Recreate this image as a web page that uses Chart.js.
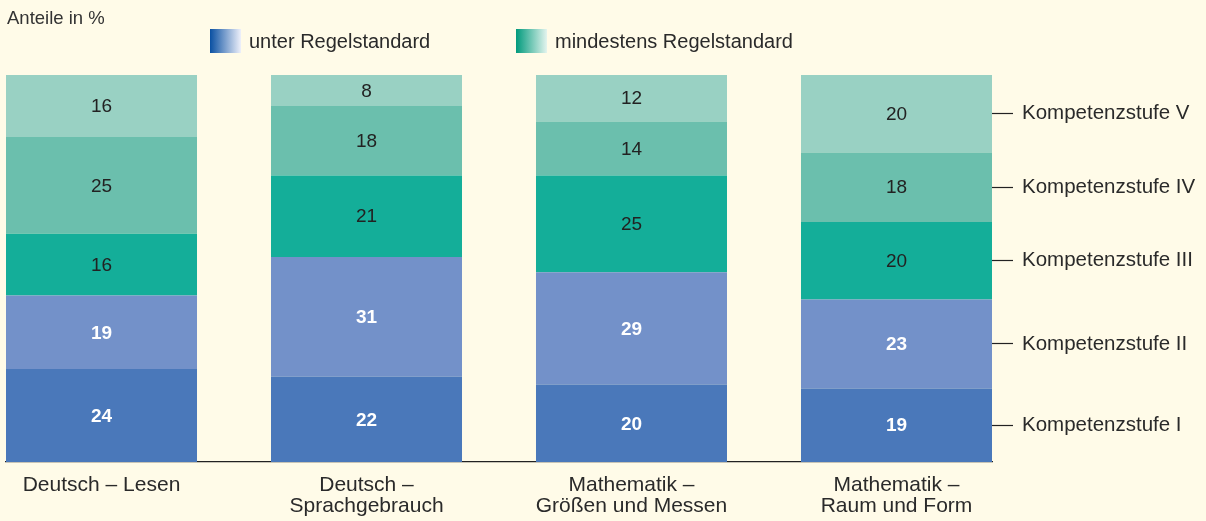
<!DOCTYPE html>
<html><head><meta charset="utf-8">
<script src="https://cdn.jsdelivr.net/npm/chart.js@4/dist/chart.umd.min.js"></script>
<style>
html,body{margin:0;padding:0;background:#fffbe8;}
#wrap{position:relative;width:1206px;height:521px;}
</style></head>
<body><div id="wrap"><canvas id="c" width="1206" height="521"></canvas></div>
<script>
const categories = [
  ['Deutsch – Lesen'],
  ['Deutsch –', 'Sprachgebrauch'],
  ['Mathematik –', 'Größen und Messen'],
  ['Mathematik –', 'Raum und Form']
];
const levels = ['Kompetenzstufe I', 'Kompetenzstufe II', 'Kompetenzstufe III', 'Kompetenzstufe IV', 'Kompetenzstufe V'];
const stufe1 = [24, 22, 20, 19];
const stufe2 = [19, 31, 29, 23];
const stufe3 = [16, 21, 25, 20];
const stufe4 = [25, 18, 14, 18];
const stufe5 = [16, 8, 12, 20];
const legendLabels = ['unter Regelstandard', 'mindestens Regelstandard'];
const yTitle = 'Anteile in %';

const series = [stufe1, stufe2, stufe3, stufe4, stufe5];
const colors = ['#4a78ba', '#7391c9', '#14ae99', '#6bbfad', '#99d1c3'];
const FONT = '"Liberation Sans", Arial, sans-serif';

const datasets = series.map((s, i) => ({
  label: levels[i],
  data: s,
  backgroundColor: colors[i],
  borderWidth: 0,
  yAxisID: 'y',
  categoryPercentage: 1,
  barPercentage: 0.7208
}));

const valueLabels = {
  id: 'valueLabels',
  afterDatasetsDraw(chart) {
    const ctx = chart.ctx;
    ctx.save();
    ctx.textAlign = 'center';
    ctx.textBaseline = 'middle';
    chart.data.datasets.forEach((ds, di) => {
      const meta = chart.getDatasetMeta(di);
      const light = di < 2;
      ctx.font = (light ? 'bold ' : '') + '19px ' + FONT;
      ctx.fillStyle = light ? '#ffffff' : '#222222';
      meta.data.forEach((el, i) => {
        const y = (el.y + el.base) / 2;
        ctx.fillText(String(ds.data[i]), el.x, y + 1);
      });
    });
    ctx.restore();
  }
};

const headerPlugin = {
  id: 'header',
  afterDraw(chart) {
    const ctx = chart.ctx;
    ctx.save();
    ctx.textBaseline = 'alphabetic';
    ctx.textAlign = 'left';
    ctx.fillStyle = '#333333';
    ctx.font = '18.5px ' + FONT;
    ctx.fillText(yTitle, 7, 23.5);
    const items = [
      {x: 210, from: '#0a50a2', to: '#eef0fa'},
      {x: 516, from: '#009a7c', to: '#e4f4ee'}
    ];
    items.forEach((it, i) => {
      const g = ctx.createLinearGradient(it.x, 0, it.x + 31, 0);
      g.addColorStop(0, it.from);
      g.addColorStop(1, it.to);
      ctx.fillStyle = g;
      ctx.fillRect(it.x, 29, 31, 24);
      ctx.fillStyle = '#2a2a2a';
      ctx.font = '20px ' + FONT;
      ctx.fillText(legendLabels[i], it.x + 39, 47.5);
    });
    ctx.restore();
  }
};

new Chart(document.getElementById('c'), {
  type: 'bar',
  data: { labels: categories.map((_, i) => i), datasets },
  options: {
    responsive: false,
    animation: false,
    layout: { padding: { top: 75, left: 6, right: 0, bottom: 0 } },
    plugins: { legend: { display: false }, tooltip: { enabled: false } },
    scales: {
      x: {
        type: 'linear',
        offset: false,
        min: -0.3604,
        max: categories.length - 1 + 0.3604,
        stacked: true,
        afterBuildTicks(scale) { scale.ticks = categories.map((_, i) => ({ value: i })); },
        afterFit(scale) { scale.height = 59; },
        grid: { display: false, drawTicks: false, offset: false },
        border: { display: true, color: '#222222', width: 1.3 },
        ticks: {
          padding: 13,
          color: '#2a2a2a',
          font: { family: FONT, size: 21, lineHeight: 1.0 },
          maxRotation: 0,
          autoSkip: false,
          callback: (v) => categories[v]
        }
      },
      y: {
        display: false,
        stacked: true,
        min: 0,
        max: 100
      },
      yR: {
        position: 'right',
        min: 0,
        max: 100,
        afterBuildTicks(scale) {
          const last = categories.length - 1;
          let cum = 0;
          scale.ticks = series.map(s => { const v = cum + s[last] / 2; cum += s[last]; return { value: v }; });
        },
        afterFit(scale) { scale.width = 214; },
        grid: { display: true, drawOnChartArea: false, drawTicks: true, tickLength: 21, tickColor: '#222222', tickWidth: 1.2 },
        border: { display: false },
        ticks: {
          padding: 9,
          color: '#2a2a2a',
          font: { family: FONT, size: 20.5 },
          callback: (v, i) => levels[i]
        }
      }
    }
  },
  plugins: [valueLabels, headerPlugin]
});
</script></body></html>
